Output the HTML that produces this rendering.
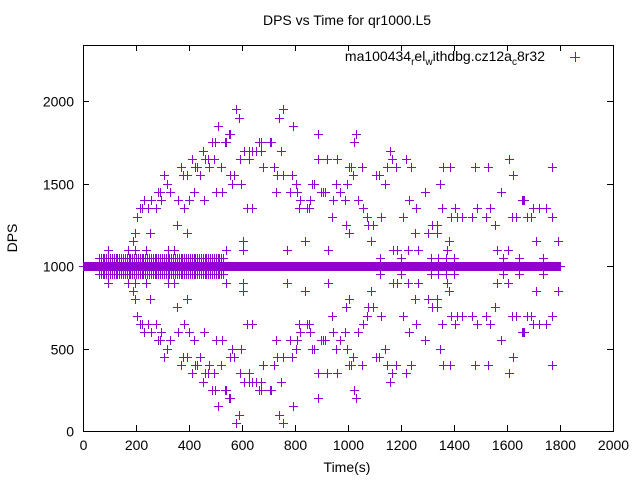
<!DOCTYPE html>
<html><head><meta charset="utf-8"><style>
body{margin:0;background:#fff}
svg{display:block;font-family:"Liberation Sans",sans-serif}
</style></head><body>
<svg id="chart" width="640" height="480" viewBox="0 0 640 480" xmlns="http://www.w3.org/2000/svg">
<text x="347" y="25" font-size="14" text-anchor="middle">DPS vs Time for qr1000.L5</text>
<text x="347" y="472" font-size="14" text-anchor="middle">Time(s)</text>
<text x="17" y="238" font-size="14" text-anchor="middle" transform="rotate(-90 17 238)">DPS</text>
<rect x="83.5" y="45.5" width="530" height="386" fill="none" stroke="#000" stroke-width="1" shape-rendering="crispEdges"/>
<g id="axes"></g>
<g id="marks"></g>
<text x="545" y="61" font-size="14" text-anchor="end">ma100434<tspan font-size="10" dy="4">r</tspan><tspan dy="-4">el</tspan><tspan font-size="10" dy="4">w</tspan><tspan dy="-4">ithdbg.cz12a</tspan><tspan font-size="10" dy="4">c</tspan><tspan dy="-4">8r32</tspan></text>
<path d="M570 57.5h10M575.5 52v10" stroke="#9400d3" stroke-width="1" shape-rendering="crispEdges"/>
</svg>
<script>
const xTicks=[0,200,400,600,800,1000,1200,1400,1600,1800,2000];
const yTicks=[0,500,1000,1500,2000];
const baseValue=1000;
const baseStart=0, baseEnd=1800, baseStep=2;
const nearStart=60, nearEnd=530, nearStep=7;
const nearDev=50;
// upper-side deviations (mirrored below 1000)
const devLevels=[950,900,850,800,750,700,650,600,550,500,450,400,350,300,250,200,150,100,50];
const devTimes=[
[578,756],
[588,741],
[509,794],
[550,555,885,1030],
[487,497,534,540,663,670,704,709,1023],
[451,609,626,638,651,670,749,1159],
[410,462,471,493,593,628,888,922,958,1167,1217,1609],
[368,422,429,477,519,678,721,1002,1013,1051,1149,1183,1238,1359,1386,1481,1530,1771],
[307,376,392,443,555,571,731,756,790,1020,1106,1116,1624],
[316,564,598,803,863,872,953,997,998,1141,1347],
[282,291,330,418,502,524,730,781,808,899,905,914,971,970,1292,1579],
[231,257,296,360,400,458,820,857,944,987,988,1039,1232,1656,1661,1666],
[214,222,247,275,383,617,637,814,844,853,1058,1258,1356,1405,1488,1537,1697,1720,1747],
[205,938,1073,1126,1209,1390,1413,1430,1469,1522,1618,1634,1676,1691,1768],
[356,992,994,1077,1093,1316,1334,1556],
[198,251,394,1003,1005,1251,1300,1334],
[187,604,836,1088,1383,1711,1794],
[93,171,198,239,321,343,540,604,768,925,1171,1185,1225,1266,1375,1564,1605],
[1122,1201,1312,1340,1368,1401,1586,1647,1734]
];
const X0=83,X1=613,Y0=431,Y1=45,XMAX=2000;
function sx(t){return X0+t/XMAX*(X1-X0);}
function sy(v){return Y0-v*0.165;}
const NS="http://www.w3.org/2000/svg";
const axes=document.getElementById('axes');
const marks=document.getElementById('marks');
let tp="";
xTicks.forEach(t=>{
  const x=Math.round(sx(t))+0.5;
  tp+=`M${x} ${Y0}v-6M${x} ${Y1}v6`;
  const tx=document.createElementNS(NS,'text');
  
  
  tx.setAttribute('x',x);tx.setAttribute('y',450);
  tx.setAttribute('font-size','14');tx.setAttribute('text-anchor','middle');
  tx.textContent=t;axes.appendChild(tx);
});
yTicks.forEach(v=>{
  const y=Math.round(sy(v))+0.5;
  tp+=`M${X0} ${y}h6M${X1} ${y}h-6`;
  const tx=document.createElementNS(NS,'text');
  
  
  tx.setAttribute('x',74);tx.setAttribute('y',y+5);
  tx.setAttribute('font-size','14');tx.setAttribute('text-anchor','end');
  tx.textContent=v;axes.appendChild(tx);
});
const tk=document.createElementNS(NS,'path');


tk.setAttribute('d',tp);tk.setAttribute('stroke','#000');tk.setAttribute('fill','none');
tk.setAttribute('shape-rendering','crispEdges');
axes.appendChild(tk);
let d="";
function plus(t,v){const x=Math.round(sx(t))+0.5,y=Math.round(sy(v))+0.5;d+=`M${x-4.5} ${y}h9M${x} ${y-4.5}v9`;}
for(let t=baseStart;t<=baseEnd;t+=baseStep)plus(t,baseValue);
for(let t=nearStart;t<=nearEnd;t+=nearStep){plus(t,baseValue+nearDev);plus(t,baseValue-nearDev);}
devLevels.forEach((dv,i)=>devTimes[i].forEach(t=>{plus(t,baseValue+dv);plus(t,baseValue-dv);}));
const p=document.createElementNS(NS,'path');


p.setAttribute('d',d);p.setAttribute('stroke','#9400d3');p.setAttribute('stroke-width','1');p.setAttribute('fill','none');
p.setAttribute('shape-rendering','crispEdges');
marks.appendChild(p);
</script>
</body></html>
